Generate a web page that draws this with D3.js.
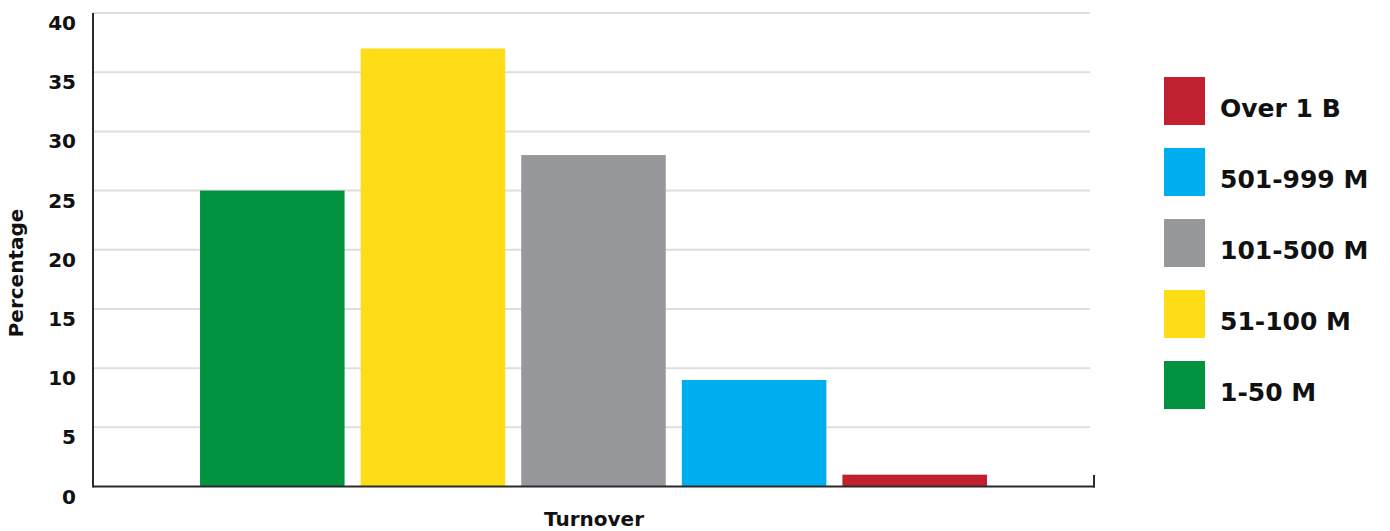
<!DOCTYPE html>
<html>
<head>
<meta charset="utf-8">
<script src="https://cdn.jsdelivr.net/npm/d3@7"></script>
<style>
  body { margin: 0; background: #fff; }
  svg { display: block; }
  text { font-family: "DejaVu Sans", sans-serif; font-weight: bold; fill: #111; }
</style>
</head>
<body>
<svg id="chart" width="1390" height="531"></svg>
<script>
"use strict"

var categories = ['1-50 M', '51-100 M', '101-500 M', '501-999 M', 'Over 1 B'];
var values     = [25, 37, 28, 9, 1];
var colors     = ['#00923f', '#fedd17', '#97989b', '#00aeef', '#c0202f'];
var yTicks     = [0, 5, 10, 15, 20, 25, 30, 35, 40];
var legendOrder = ['Over 1 B', '501-999 M', '101-500 M', '51-100 M', '1-50 M'];

var svg = d3.select('#chart');

var plotLeft   = 93;
var plotRight  = 1094;
var plotTop    = 13;
var plotBottom = 486.5;

var x = d3.scaleBand()
    .domain(categories)
    .range([192, 995])
    .paddingInner(0.1)
    .paddingOuter(0.05);

var y = d3.scaleLinear()
    .domain([0, 40])
    .range([plotBottom, plotTop]);

var color = d3.scaleOrdinal().domain(categories).range(colors);

// gridlines
svg.append('g')
    .selectAll('line.grid').data(yTicks.filter(d => d > 0))
    .enter()
    .append('line')
    .attr('class', 'grid')
    .attr('x1', plotLeft)
    .attr('x2', 1090)
    .attr('y1', d => y(d))
    .attr('y2', d => y(d))
    .style('stroke', '#dedede')
    .style('stroke-width', 2);

// tick labels
svg.append('g')
    .selectAll('text.tick').data(yTicks)
    .enter()
    .append('text')
    .attr('class', 'tick')
    .attr('x', 76)
    .attr('y', d => y(d) + 17)
    .attr('text-anchor', 'end')
    .attr('font-size', '20px')
    .text(d => d);

// bars
svg.append('g')
    .selectAll('rect.bar').data(categories)
    .enter()
    .append('rect')
    .attr('class', 'bar')
    .attr('x', d => x(d))
    .attr('width', x.bandwidth())
    .attr('y', (d, i) => y(values[i]))
    .attr('height', (d, i) => y(0) - y(values[i]))
    .style('fill', d => color(d));

// axes
svg.append('line')
    .attr('x1', plotLeft).attr('x2', plotLeft)
    .attr('y1', plotTop).attr('y2', plotBottom + 1)
    .style('stroke', '#2a2a2a').style('stroke-width', 2);
svg.append('line')
    .attr('x1', plotLeft).attr('x2', plotRight + 1)
    .attr('y1', plotBottom).attr('y2', plotBottom)
    .style('stroke', '#2a2a2a').style('stroke-width', 2);
svg.append('line')
    .attr('x1', plotRight).attr('x2', plotRight)
    .attr('y1', 475).attr('y2', plotBottom + 1)
    .style('stroke', '#2a2a2a').style('stroke-width', 2);

// axis titles
svg.append('text')
    .attr('transform', 'translate(23,273) rotate(-90)')
    .attr('text-anchor', 'middle')
    .attr('font-size', '20px')
    .text('Percentage');

svg.append('text')
    .attr('x', 594)
    .attr('y', 526)
    .attr('text-anchor', 'middle')
    .attr('font-size', '20px')
    .text('Turnover');

// legend
var legend = svg.append('g')
    .selectAll('g.legend').data(legendOrder)
    .enter()
    .append('g')
    .attr('class', 'legend')
    .attr('transform', (d, i) => 'translate(1164,' + (77 + i * 71) + ')');

legend.append('rect')
    .attr('width', 41)
    .attr('height', 48)
    .style('fill', d => color(d));

legend.append('text')
    .attr('x', 56)
    .attr('y', 40)
    .attr('font-size', '25px')
    .text(d => d);
</script>
</body>
</html>
